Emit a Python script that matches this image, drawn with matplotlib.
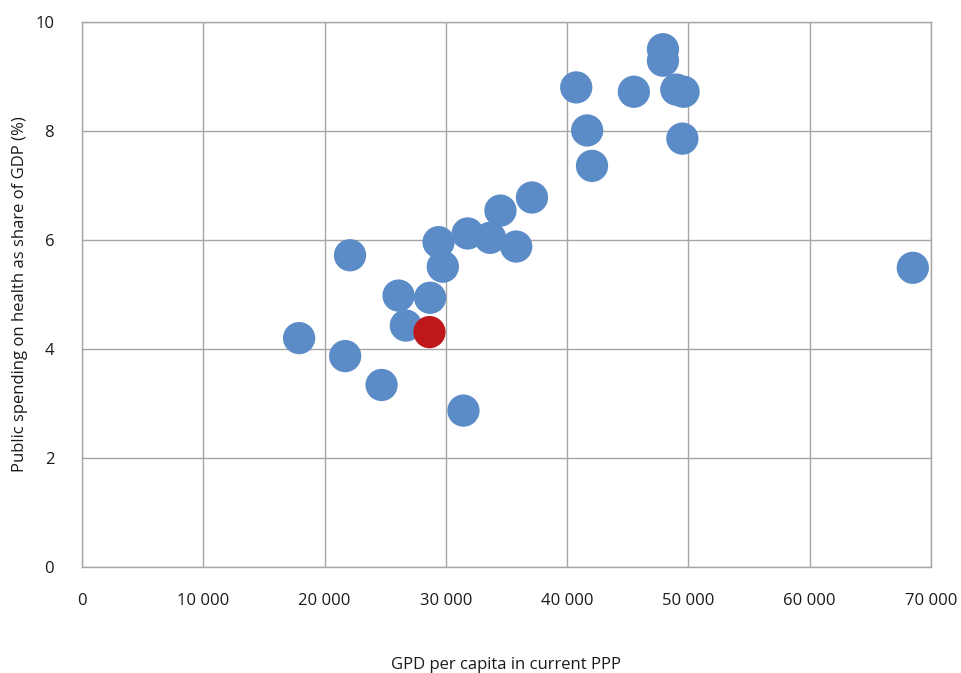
import matplotlib
matplotlib.use('Agg')
from matplotlib import pyplot as plt
from matplotlib.ticker import FuncFormatter

# GDP per capita (PPP) and public health spending (% of GDP)
gdp = [17900, 22100, 21700, 24700, 26100, 26700, 28700, 31450, 29400, 29750,
       31800, 33650, 34500, 35800, 37100, 40750, 41650, 42050, 45500, 47900,
       47900, 49000, 49600, 49500, 68500]
spend = [4.20, 5.72, 3.87, 3.34, 4.98, 4.43, 4.94, 2.87, 5.96, 5.51,
         6.12, 6.04, 6.54, 5.88, 6.78, 8.80, 8.01, 7.36, 8.72, 9.50,
         9.29, 8.76, 8.72, 7.86, 5.49]

# highlighted country
hl_gdp = [28650]
hl_spend = [4.31]

x_ticks = [0, 10000, 20000, 30000, 40000, 50000, 60000, 70000]
y_ticks = [0, 2, 4, 6, 8, 10]

plt.rcParams['font.family'] = ['Open Sans', 'DejaVu Sans']

fig = plt.figure(figsize=(9.62, 6.73), dpi=100)
ax = fig.add_axes([82/962, 1 - 567/673, (931-82)/962, (567-22)/673])

ax.scatter(gdp, spend, s=540, color='#5B8CC8', edgecolors='none', zorder=3)
ax.scatter(hl_gdp, hl_spend, s=540, color='#C0171B', edgecolors='none', zorder=4)

ax.set_xlim(0, 70000)
ax.set_ylim(0, 10)
ax.set_xticks(x_ticks)
ax.set_yticks(y_ticks)
ax.xaxis.set_major_formatter(FuncFormatter(lambda v, p: f'{int(v):,}'.replace(',', ' ')))
ax.grid(True, color='#A6A6A6', linewidth=1.0, zorder=0)
ax.set_axisbelow(True)
for s in ax.spines.values():
    s.set_color('#A6A6A6')
    s.set_linewidth(1.0)
ax.tick_params(length=0, labelsize=12, colors='#1a1a1a')
ax.tick_params(axis='x', pad=19)
ax.tick_params(axis='y', pad=20)

ax.set_xlabel('GPD per capita in current PPP', fontsize=12, labelpad=34, color='#1a1a1a')
ax.set_ylabel('Public spending on health as share of GDP (%)', fontsize=12, labelpad=5, color='#1a1a1a')

fig.savefig('out.png', dpi=100)
